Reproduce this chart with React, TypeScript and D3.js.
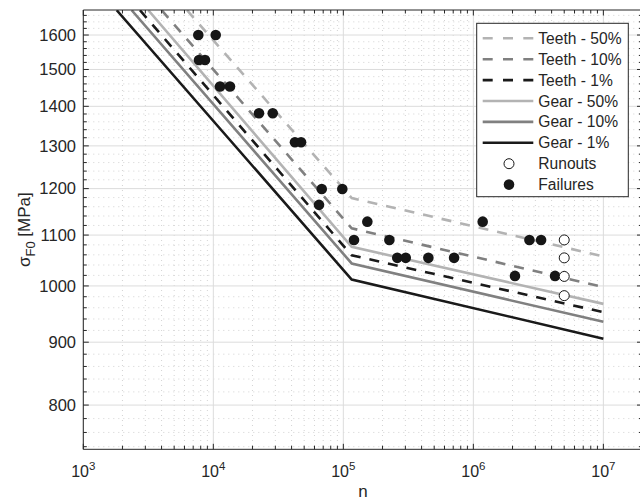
import * as d3 from 'd3';

// S-N curves: [n at top of axes, knee, end] with stress values in MPa
const curveNames = ['Teeth - 50%', 'Teeth - 10%', 'Teeth - 1%', 'Gear - 50%', 'Gear - 10%', 'Gear - 1%'];
const curveColors = ['#b3b3b3', '#808080', '#1a1a1a', '#b3b3b3', '#808080', '#1a1a1a'];
const curveDashed = [true, true, true, false, false, false];
const curveStartN = [6279, 4009, 2729, 3162, 2355, 1807];
const curveKneeN = [1.16e5, 1.16e5, 1.16e5, 1.16e5, 1.16e5, 1.16e5];
const curveEndN = [1e7, 1e7, 1e7, 1e7, 1e7, 1e7];
const curveStartS = [1676, 1676, 1676, 1676, 1676, 1676];
const curveKneeS = [1179, 1114, 1059, 1076, 1043, 1012];
const curveEndS = [1057, 998, 952, 967, 935, 906];

// test results
const failN = [7665, 10435, 7762, 8630, 11260, 13430, 22460, 28640, 42460, 47300, 68230, 98200, 65000,
  153000, 120800, 226000, 260000, 302000, 450800, 711000, 1.18e6, 2.7e6, 3.32e6, 2.09e6, 4.25e6];
const failS = [1600, 1600, 1527, 1527, 1453, 1453, 1382, 1382, 1309, 1309, 1199, 1199, 1164,
  1128, 1090, 1090, 1054, 1054, 1054, 1054, 1128, 1090, 1090, 1019, 1019];
const runoutN = [5e6, 5e6, 5e6, 5e6];
const runoutS = [1090, 1054, 1018, 982];

const xTickExps = [3, 4, 5, 6, 7];
const yTicks = [800, 900, 1000, 1100, 1200, 1300, 1400, 1500, 1600];

const W = 640;
const H = 501;
const left = 83.3;
const right = 642.5;
const top = 10;
const bottom = 449.3;
const font = 'Liberation Sans, Arial, Helvetica, sans-serif';
const axisColor = '#262626';

export default function App() {
  const x = d3.scaleLog().domain([1e3, 2e7]).range([left, right]);
  const y = d3.scaleLog().domain([736.4, 1676.8]).range([bottom, top]);

  const xMinor: number[] = [];
  for (let e = 3; e <= 7; e++) {
    for (let m = 2; m <= 9; m++) {
      const v = m * Math.pow(10, e);
      if (v < 2e7) xMinor.push(v);
    }
  }
  const yMinor = d3.range(740, 1680, 20).filter(v => v % 100 !== 0);

  const line = d3.line<[number, number]>().x(d => x(d[0])).y(d => y(d[1]));

  const legendRows = [...curveNames, 'Runouts', 'Failures'];
  const lgX = 476.7;
  const lgY = 23.3;

  return (
    <div style={{ position: 'fixed', left: 0, top: 0 }}>
      <svg width={W} height={H} style={{ display: 'block', background: '#fff' }} fontFamily={font}>
        <defs>
          <clipPath id="plot">
            <rect x={left} y={top} width={right - left} height={bottom - top} />
          </clipPath>
        </defs>
        <rect x={left} y={top} width={right - left} height={bottom - top} fill="#fff" />
        {/* minor grid */}
        {xMinor.map(v => (
          <line key={'xm' + v} x1={x(v)} x2={x(v)} y1={top} y2={bottom} stroke="#c8c8c8" strokeWidth={0.8} strokeDasharray="1,4" />
        ))}
        {yMinor.map(v => (
          <line key={'ym' + v} x1={left} x2={right} y1={y(v)} y2={y(v)} stroke="#c8c8c8" strokeWidth={0.8} strokeDasharray="1,4" />
        ))}
        {/* major grid */}
        {xTickExps.map(e => (
          <line key={'xg' + e} x1={x(Math.pow(10, e))} x2={x(Math.pow(10, e))} y1={top} y2={bottom} stroke="#dcdcdc" strokeWidth={1} />
        ))}
        {yTicks.map(v => (
          <line key={'yg' + v} x1={left} x2={right} y1={y(v)} y2={y(v)} stroke="#dcdcdc" strokeWidth={1} />
        ))}

        {/* curves */}
        <g clipPath="url(#plot)">
          {curveNames.map((name, i) => (
            <path
              key={name}
              d={line([[curveStartN[i], curveStartS[i]], [curveKneeN[i], curveKneeS[i]], [curveEndN[i], curveEndS[i]]]) || ''}
              fill="none"
              stroke={curveColors[i]}
              strokeWidth={2.6}
              strokeDasharray={curveDashed[i] ? '10,9' : undefined}
            />
          ))}
          {failN.map((n, i) => (
            <circle key={'f' + i} cx={x(n)} cy={y(failS[i])} r={5.3} fill="#161616" />
          ))}
          {runoutN.map((n, i) => (
            <circle key={'r' + i} cx={x(n)} cy={y(runoutS[i])} r={5} fill="#fff" stroke="#161616" strokeWidth={1} />
          ))}
        </g>

        {/* axes box and ticks */}
        <line x1={left} x2={right} y1={bottom} y2={bottom} stroke={axisColor} strokeWidth={1} />
        <line x1={left} x2={right} y1={top} y2={top} stroke={axisColor} strokeWidth={1} />
        <line x1={left} x2={left} y1={top} y2={bottom} stroke={axisColor} strokeWidth={1} />
        <line x1={right} x2={right} y1={top} y2={bottom} stroke={axisColor} strokeWidth={1} />
        {xTickExps.map(e => {
          const px = x(Math.pow(10, e));
          return (
            <g key={'xt' + e}>
              <line x1={px} x2={px} y1={bottom} y2={bottom - 5.5} stroke={axisColor} />
              <line x1={px} x2={px} y1={top} y2={top + 5.5} stroke={axisColor} />
              <text x={px} y={476.7} textAnchor="middle" fontSize={16} fill={axisColor}>
                <tspan>10</tspan>
                <tspan dy={-6.5} fontSize={11.5}>{e}</tspan>
              </text>
            </g>
          );
        })}
        {xMinor.map(v => (
          <g key={'xmt' + v}>
            <line x1={x(v)} x2={x(v)} y1={bottom} y2={bottom - 3.5} stroke={axisColor} />
            <line x1={x(v)} x2={x(v)} y1={top} y2={top + 3.5} stroke={axisColor} />
          </g>
        ))}
        {yTicks.map(v => (
          <g key={'yt' + v}>
            <line x1={left} x2={left + 5.5} y1={y(v)} y2={y(v)} stroke={axisColor} />
            <line x1={right} x2={right - 5.5} y1={y(v)} y2={y(v)} stroke={axisColor} />
            <text x={76} y={y(v) + 5.8} textAnchor="end" fontSize={16.5} fill={axisColor}>{v}</text>
          </g>
        ))}
        {yMinor.map(v => (
          <g key={'ymt' + v}>
            <line x1={left} x2={left + 3.5} y1={y(v)} y2={y(v)} stroke={axisColor} />
            <line x1={right} x2={right - 3.5} y1={y(v)} y2={y(v)} stroke={axisColor} />
          </g>
        ))}

        {/* axis labels */}
        <text x={(left + right) / 2} y={497} textAnchor="middle" fontSize={17} fill={axisColor}>n</text>
        <text transform={`translate(30,${(top + bottom) / 2}) rotate(-90)`} textAnchor="middle" fontSize={17} fill={axisColor}>
          <tspan>σ</tspan>
          <tspan dy={5} fontSize={13}>F0</tspan>
          <tspan dy={-5}> [MPa]</tspan>
        </text>

        {/* legend */}
        <rect x={lgX} y={lgY} width={151.6} height={173.4} fill="#fff" stroke={axisColor} strokeWidth={1} />
        {legendRows.map((name, i) => {
          const cy = 38.3 + i * 20.9;
          let mark;
          if (i < curveNames.length) {
            mark = (
              <line x1={482.7} x2={533.3} y1={cy} y2={cy} stroke={curveColors[i]} strokeWidth={2.6}
                strokeDasharray={curveDashed[i] ? '10,10.3' : undefined} />
            );
          } else if (name === 'Runouts') {
            mark = <circle cx={509} cy={cy} r={5} fill="#fff" stroke="#161616" strokeWidth={1} />;
          } else {
            mark = <circle cx={509} cy={cy} r={5.3} fill="#161616" />;
          }
          return (
            <g key={'lg' + name}>
              {mark}
              <text x={538.3} y={cy + 5.5} fontSize={15.6} fill={axisColor}>{name}</text>
            </g>
          );
        })}
      </svg>
    </div>
  );
}
